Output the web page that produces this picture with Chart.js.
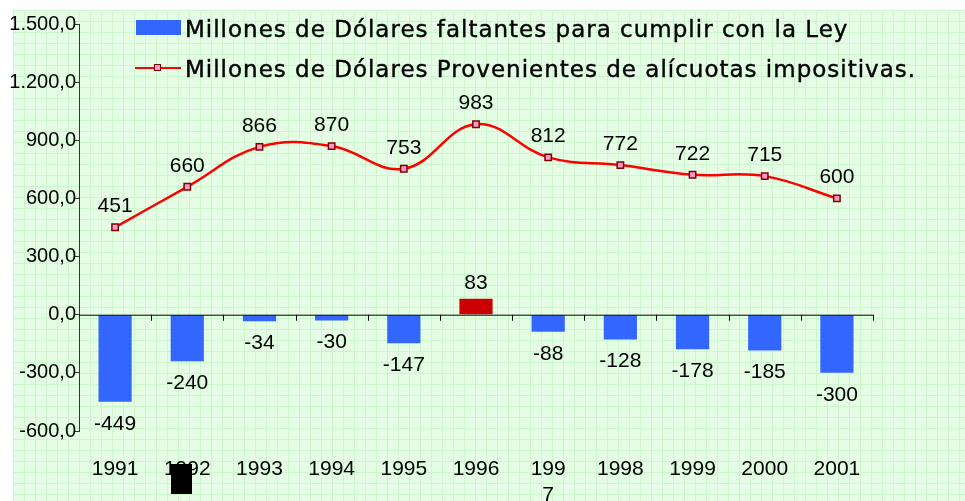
<!DOCTYPE html>
<html>
<head>
<meta charset="utf-8">
<script src="https://cdn.jsdelivr.net/npm/chart.js@4.4.1/dist/chart.umd.min.js"></script>
<style>
	body { margin: 0; background: #fff; }
	#wrap { position: relative; width: 965px; height: 501px; overflow: hidden; }
	/* green squared paper behind the plot */
	#paper {
		position: absolute; left: 13px; top: 10px; right: 0; bottom: 0;
		background-color: #e4fde4;
		background-image: linear-gradient(#ccf6cc 1px, transparent 1px),
			linear-gradient(90deg, #ccf6cc 1px, transparent 1px);
		background-size: 11px 11px;
	}
	#myChart { position: absolute; left: 0; top: 0; }
	.legend-text {
		position: absolute; left: 185px; height: 30px; line-height: 30px; white-space: nowrap;
		font-family: "DejaVu Sans", sans-serif; font-size: 23px; letter-spacing: 1px; color: #000;
		-webkit-text-stroke: 0.4px #000;
	}
	#legendBox { position: absolute; left: 136px; top: 20px; width: 45px; height: 15px; background: #3366ff; }
	#legendLine { position: absolute; left: 135px; top: 66.5px; width: 46px; height: 2px; background: #ff0000; }
	#legendMark {
		position: absolute; left: 153.5px; top: 64px; width: 5px; height: 5px;
		background: #ff99cc; border: 1.5px solid #800000;
	}
	#blot { position: absolute; left: 171px; top: 464px; width: 21px; height: 30px; background: #000; }
</style>
</head>
<body>
<div id="wrap">
	<div id="paper"></div>
	<canvas id="myChart" width="965" height="501"></canvas>
	<div id="legendBox"></div>
	<div class="legend-text" style="top:14px">Millones de Dólares faltantes para cumplir con la Ley</div>
	<div id="legendLine"></div>
	<div id="legendMark"></div>
	<div class="legend-text" style="top:54px">Millones de Dólares Provenientes de alícuotas impositivas.</div>
	<div id="blot"></div>
</div>
<script>
// Data

const years = ["1991", "1992", "1993", "1994", "1995", "1996", ["199", "7"], "1998", "1999", "2000", "2001"];
const faltantes = [-449, -240, -34, -30, -147, 83, -88, -128, -178, -185, -300];
const alicuotas = [451, 660, 866, 870, 753, 983, 812, 772, 722, 715, 600];
const yTicks = [-600, -300, 0, 300, 600, 900, 1200, 1500];

const numFamily = "'Liberation Sans', Arial, sans-serif";

// 1500 -> "1.500,0"
function formatTick(v) {
	let s = Math.abs(v).toFixed(1).replace(".", ",");
	let parts = s.split(",");
	parts[0] = parts[0].replace(/\B(?=(\d{3})+(?!\d))/g, ".");
	return (v < 0 ? "-" : "") + parts.join(",");
}

// zero line with the little category ticks hanging below it
const zeroAxis = {
	id: "zeroAxis",
	afterDatasetsDraw(chart) {
		const ctx = chart.ctx;
		const y0 = chart.scales.y.getPixelForValue(0);
		ctx.save();
		ctx.strokeStyle = "#000";
		ctx.lineWidth = 1;
		ctx.beginPath();
		ctx.moveTo(chart.chartArea.left, y0 + 0.5);
		ctx.lineTo(chart.chartArea.right, y0 + 0.5);
		const step = (chart.chartArea.right - chart.chartArea.left) / years.length;
		for (let i = 1; i <= years.length; i++) {
			const px = Math.round(chart.chartArea.left + step * i) + 0.5;
			ctx.moveTo(px, y0);
			ctx.lineTo(px, y0 + 6);
		}
		ctx.stroke();
		ctx.restore();
	},
};

// value labels on bars and points
const valueLabels = {
	id: "valueLabels",
	afterDatasetsDraw(chart) {
		const ctx = chart.ctx;
		ctx.save();
		ctx.font = "21px " + numFamily;
		ctx.fillStyle = "#000";
		ctx.textAlign = "center";
		ctx.textBaseline = "middle";
		chart.getDatasetMeta(0).data.forEach(function (bar, i) {
			let v = faltantes[i];
			let yy = v < 0 ? bar.y + 22 : bar.y - 15;
			ctx.fillText(String(v), bar.x, yy);
		});
		chart.getDatasetMeta(1).data.forEach(function (pt, i) {
			ctx.fillText(String(alicuotas[i]), pt.x, pt.y - 21);
		});
		ctx.restore();
	},
};

new Chart(document.getElementById("myChart").getContext("2d"), {
	type: "bar",
	data: {
		labels: years,
		datasets: [
			{
				type: "bar",
				label: "Millones de Dólares faltantes para cumplir con la Ley",
				data: faltantes,
				backgroundColor: faltantes.map((v) => (v > 0 ? "#cc0000" : "#3366ff")),
				barPercentage: 0.46,
				categoryPercentage: 1,
				order: 2,
			},
			{
				type: "line",
				label: "Millones de Dólares Provenientes de alícuotas impositivas.",
				data: alicuotas,
				borderColor: "#ff0000",
				borderWidth: 2.5,
				tension: 0.4,
				pointStyle: "rect",
				pointRadius: 4.5,
				pointBorderWidth: 1.5,
				pointBackgroundColor: "#ff99cc",
				pointBorderColor: "#800000",
				order: 1,
			},
		],
	},
	options: {
		responsive: false,
		animation: false,
		layout: { padding: { top: 24, right: 92, left: 0, bottom: 0 } },
		plugins: {
			legend: { display: false },
			tooltip: { enabled: false },
		},
		scales: {
			x: {
				grid: { display: false, drawTicks: false },
				border: { display: false },
				ticks: {
					color: "#000",
					font: { family: numFamily, size: 21, lineHeight: 1.2 },
					padding: 26,
					maxRotation: 0,
					autoSkip: false,
				},
				afterFit(scale) {
					scale.height = 70;
				},
			},
			y: {
				min: -600,
				max: 1500,
				afterBuildTicks(scale) {
					scale.ticks = yTicks.map((v) => ({ value: v }));
				},
				grid: { drawOnChartArea: false, tickLength: 4, color: "#333" },
				border: { color: "#333", width: 1 },
				ticks: {
					color: "#000",
					font: { family: numFamily, size: 20 },
					padding: -1,
					callback: (v) => formatTick(v),
				},
				afterFit(scale) {
					scale.width = 79;
				},
			},
		},
	},
	plugins: [zeroAxis, valueLabels],
});
</script>
</body>
</html>
